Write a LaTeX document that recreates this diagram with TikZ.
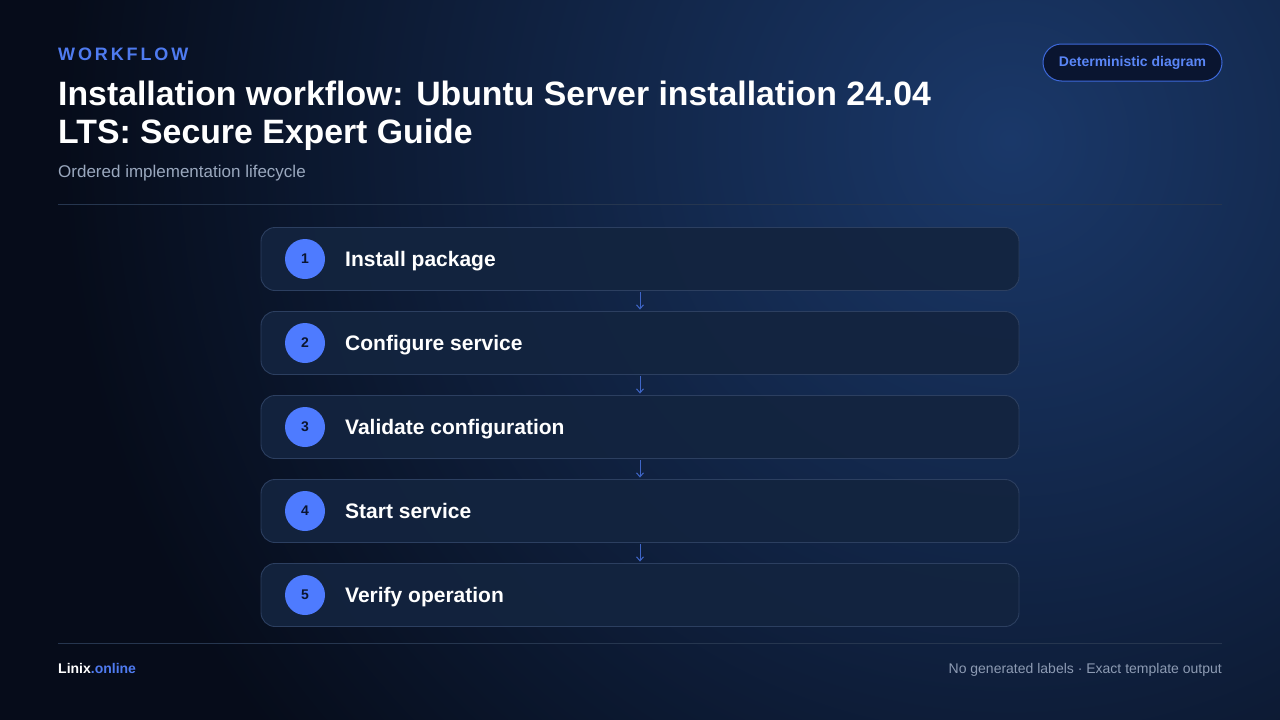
\documentclass[tikz,border=0pt]{standalone}
\usepackage{fontspec}
\setmainfont{Liberation Sans}
\usetikzlibrary{arrows.meta}
\definecolor{bgdark}{HTML}{060C1A}
\definecolor{glow}{HTML}{1A3869}
\definecolor{accent}{HTML}{4F7BF0}
\definecolor{accentb}{HTML}{5A86F7}
\definecolor{circ}{HTML}{4E7BFF}
\definecolor{boxfill}{HTML}{13243F}
\definecolor{boxline}{HTML}{2C3F60}
\definecolor{sepline}{HTML}{26364F}
\definecolor{subgray}{HTML}{9AA8BE}
\definecolor{footgray}{HTML}{8D9BB3}
\definecolor{numcol}{HTML}{0B1530}
\definecolor{arrowcol}{HTML}{3F66C8}
\definecolor{pillfill}{HTML}{0A1530}
\definecolor{pillline}{HTML}{3D68DA}
\tikzset{
  stepbox/.style={draw=boxline, line width=0.9pt, fill=boxfill, fill opacity=0.92, rounded corners=14pt, minimum width=758pt, minimum height=63pt, inner sep=0pt},
  numdot/.style={circle, fill=circ, minimum size=40pt, inner sep=0pt, text=numcol, font=\bfseries\fontsize{14}{16}\selectfont},
  steplabel/.style={anchor=base west, text=white, font=\bfseries\fontsize{21}{24}\selectfont, inner sep=0pt},
  flowarrow/.style={draw=arrowcol, line width=1pt, -{Straight Barb[length=4pt,width=7pt]}},
}
\begin{document}
\begin{tikzpicture}[x=1pt,y=-1pt]
\useasboundingbox (0,0) rectangle (1280,720);
\fill[bgdark] (0,0) rectangle (1280,720);
\begin{scope}
\clip (0,0) rectangle (1280,720);
\shade[inner color=glow, outer color=bgdark] (1010,140) circle (950);
\end{scope}
% header
\node[anchor=base west, inner sep=0pt, text=accent, font=\bfseries\fontsize{18}{20}\selectfont\addfontfeature{LetterSpace=16}] (kicker) at (58,60) {WORKFLOW};
\node[anchor=base west, inner sep=0pt, text=white, font=\bfseries\fontsize{33.8}{38}\selectfont] (title1) at (58,105) {Installation workflow: Ubuntu Server installation 24.04};
\node[anchor=base west, inner sep=0pt, text=white, font=\bfseries\fontsize{33.8}{38}\selectfont] (title2) at (58,143) {LTS: Secure Expert Guide};
\node[anchor=base west, inner sep=0pt, text=subgray, font=\fontsize{17}{20}\selectfont] (subtitle) at (58,177) {Ordered implementation lifecycle};
\node[draw=pillline, line width=1pt, fill=pillfill, rounded corners=18.5pt, minimum width=179pt, minimum height=37pt, inner sep=0pt, text=accentb, font=\bfseries\fontsize{14}{16}\selectfont] (badge) at (1132.5,62.5) {\raisebox{-1pt}{Deterministic diagram}};
\coordinate (sepTL) at (58,204.5);
\coordinate (sepTR) at (1222,204.5);
\draw[sepline, line width=1pt] (sepTL) -- (sepTR);
% steps
\foreach \i/\t in {1/Install package,2/Configure service,3/Validate configuration,4/Start service,5/Verify operation}{
  \pgfmathsetmacro{\yy}{259+84*(\i-1)}
  \node[stepbox] (box\i) at (640,\yy) {};
  \node[numdot] (num\i) at (305,\yy) {\i};
  \node[steplabel] (lab\i) at (345,\yy+7.5) {\t};
}
\foreach \a/\b in {1/2,2/3,3/4,4/5}{
  \draw[flowarrow] ([yshift=-1.5pt]box\a.south) -- ([yshift=1.5pt]box\b.north);
}
% footer
\coordinate (sepBL) at (58,643.5);
\coordinate (sepBR) at (1222,643.5);
\draw[sepline, line width=1pt] (sepBL) -- (sepBR);
\node[anchor=base west, inner sep=0pt, font=\bfseries\fontsize{14}{16}\selectfont] (brand) at (58,673) {\textcolor{white}{Linix}\textcolor{accent}{.online}};
\node[anchor=base east, inner sep=0pt, text=footgray, font=\fontsize{14}{16}\selectfont] (foot) at (1222,673) {No generated labels · Exact template output};
\end{tikzpicture}
\end{document}
